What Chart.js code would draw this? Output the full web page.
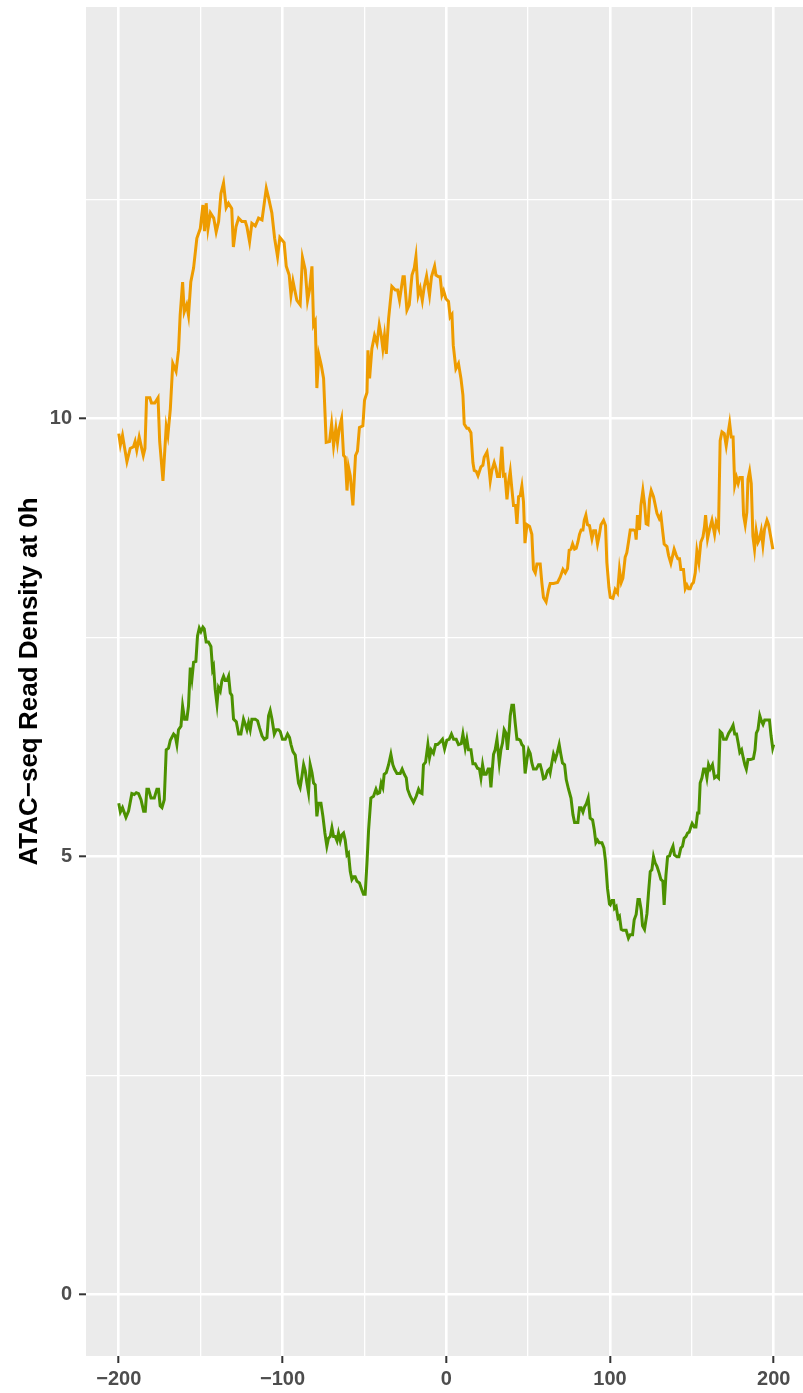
<!DOCTYPE html>
<html>
<head>
<meta charset="utf-8">
<title>ATAC-seq read density</title>
<script src="https://cdn.jsdelivr.net/npm/chart.js@4.4.1/dist/chart.umd.min.js"></script>
<style>
  html, body { margin: 0; padding: 0; background: #ffffff; }
  canvas { display: block; }
</style>
</head>
<body>
<canvas id="atacChart" width="803" height="1393"></canvas>
<script>
// positions relative to the site and read density
const orangePos = [
  -200, -199, -197.7, -195, -193, -191, -190, -189, -187.5, -185, -184, -183, -181, -180, -178, -176,
  -175, -173, -171, -170, -168.5, -167, -165, -163.5, -162.5, -161, -160, -158.5, -157.4, -156, -154.3,
  -152.3, -150.2, -148.6, -147.6, -146.6, -145.5, -144, -142, -140.5, -139, -137.6, -136, -134.4, -133,
  -131, -130, -128.4, -126.8, -124.8, -122.7, -121.7, -120.1, -118.7, -116.6, -114.6, -112.5, -109.9,
  -108.5, -106.5, -104.8, -103, -101.6, -99, -97.7, -95.9, -94.8, -93.6, -91.2, -89.2, -87.8, -86.1,
  -84.7, -83.5, -82, -81, -80, -79, -77.8, -76.3, -74.9, -73.3, -71.3, -70, -68.8, -67.4, -66.4, -65.3,
  -63.9, -62.7, -61.7, -60.6, -59.7, -58.6, -57, -55.4, -54.2, -53, -50.9, -49.9, -48.4, -47.8, -46.8,
  -45.4, -43.8, -42.3, -40.9, -39.7, -38.7, -37.7, -36.6, -35.2, -33.2, -31.1, -29.7, -28.5, -26.4,
  -25.6, -24, -22.6, -20.9, -19.5, -18.5, -17.1, -15.9, -14.6, -13.4, -12, -10.2, -9, -7.1, -6.3, -4.7,
  -3.7, -2.6, -1.6, -0.2, 1.4, 2.4, 3.5, 4.3, 5.9, 7.5, 9, 10.2, 11, 12.6, 13.6, 15.1, 16.3, 17.1, 18.3,
  19.4, 21.2, 22.4, 23.2, 24.9, 25.8, 26.9, 27.9, 29.3, 30.4, 31.3, 32.6, 34, 35, 35.9, 37.1, 38.1, 39.1,
  40.1, 41.1, 42.3, 43.2, 44.2, 45.2, 46.2, 47.2, 48.1, 49.3, 50.9, 52.3, 53.3, 54.4, 55.4, 57.4, 58.4,
  59.4, 61, 62.5, 63.5, 65.5, 68, 69.6, 71.3, 72.7, 74.1, 75.1, 76.2, 77.2, 78.4, 79.4, 80.4, 81.4, 82.4,
  83.5, 84.3, 85.3, 86.3, 87.5, 89, 90, 91.2, 92.4, 93.4, 94.5, 96.1, 97.3, 98.1, 99.4, 100.2, 101.8,
  103.2, 104.6, 105.8, 106.9, 107.9, 109.3, 110.3, 111.3, 112.4, 114.4, 115.4, 116, 116.8, 118, 118.9,
  120.1, 121.1, 122.1, 123.2, 124.2, 125.2, 126.6, 127.6, 128.7, 130.1, 131.1, 132.3, 133.1, 134.8,
  135.8, 137.2, 139.2, 140.5, 141.5, 142.5, 143.3, 144.9, 146, 147, 148, 149, 150, 151, 152.1, 153.1,
  154.3, 155.5, 156.8, 157.7, 158.4, 159.6, 160.6, 162.3, 163.9, 164.9, 166.3, 167.3, 168.4, 169.8, 171,
  172.1, 173.1, 174.1, 175.2, 176.2, 177.3, 178.3, 179.3, 180.8, 181.6, 182.6, 183.6, 184.3, 185.3,
  186.3, 187.3, 188.3, 189.3, 190.4, 191.4, 192.4, 193.4, 194.4, 195.9, 196.9, 197.9, 199.5
];
const orangeDensity = [
  9.83, 9.70, 9.81, 9.51, 9.66, 9.68, 9.74, 9.64, 9.79, 9.58, 9.66, 10.24, 10.24, 10.18, 10.18, 10.24,
  9.74, 9.29, 9.91, 9.81, 10.11, 10.63, 10.54, 10.78, 11.18, 11.56, 11.22, 11.30, 11.18, 11.56, 11.72,
  12.06, 12.17, 12.44, 12.14, 12.46, 12.17, 12.35, 12.29, 12.13, 12.25, 12.57, 12.69, 12.41, 12.46,
  12.40, 11.96, 12.19, 12.29, 12.25, 12.25, 12.19, 12.02, 12.23, 12.20, 12.29, 12.27, 12.63,
  12.52, 12.35, 12.06, 11.85, 12.07, 12.01, 11.74, 11.64, 11.41, 11.57, 11.35, 11.30, 11.84, 11.70,
  11.35, 11.47, 11.74, 11.07, 11.11, 10.35, 10.73, 10.61, 10.46, 9.73, 9.74, 9.94, 9.69, 9.89, 9.73, 9.89,
  10.00, 9.58, 9.56, 9.18, 9.45, 9.35, 9.01, 9.58, 9.63, 9.90, 9.92, 10.21, 10.30, 10.78, 10.46,
  10.80, 10.95, 10.86, 11.07, 10.95, 10.80, 10.95, 10.74, 11.14, 11.51, 11.47, 11.47, 11.35, 11.62,
  11.62, 11.24, 11.30, 11.64, 11.72, 11.85, 11.41, 11.49, 11.35, 11.51, 11.63, 11.41, 11.62, 11.74, 11.64, 11.62,
  11.62, 11.41, 11.46, 11.37, 11.34, 11.16, 11.19, 10.84, 10.57, 10.63, 10.46, 10.27, 9.94, 9.89, 9.89, 9.84, 9.50, 9.41, 9.40,
  9.35, 9.45, 9.47, 9.56, 9.62, 9.50, 9.29, 9.41, 9.50, 9.43, 9.34, 9.34, 9.68, 9.35, 9.36, 9.08, 9.28, 9.40,
  9.20, 9.01, 9.01, 8.80, 9.11, 9.12, 9.23, 9.05, 8.58, 8.79, 8.77, 8.68, 8.28, 8.24, 8.34, 8.34, 8.13,
  7.96, 7.91, 8.05, 8.12, 8.12, 8.13, 8.19, 8.28, 8.24, 8.29, 8.50, 8.51, 8.57, 8.51, 8.52, 8.59, 8.68, 8.73,
  8.73, 8.84, 8.90, 8.79, 8.78, 8.63, 8.72, 8.72, 8.57, 8.66, 8.79, 8.84, 8.78, 8.36, 8.07, 7.96, 7.95,
  8.05, 8.01, 8.28, 8.13, 8.18, 8.42, 8.47, 8.59, 8.73, 8.73, 8.72, 8.62, 8.90, 8.73, 9.01,
  9.18, 9.03, 8.80, 8.79, 9.08, 9.18, 9.11, 9.02, 8.92, 8.86, 8.90, 8.70, 8.57, 8.54,
  8.44, 8.35, 8.51, 8.44, 8.40, 8.40, 8.28, 8.28, 8.06, 8.10, 8.06, 8.06, 8.11, 8.13, 8.24, 8.49,
  8.36, 8.59, 8.65, 8.76, 8.90, 8.63, 8.72, 8.84, 8.68, 8.82, 8.75, 9.75, 9.85, 9.83, 9.69,
  9.83, 9.95, 9.79, 9.79, 9.24, 9.33, 9.26, 9.33, 9.33, 8.90, 8.79, 8.93, 9.31, 9.40,
  9.26, 8.66, 8.51, 8.72, 8.59, 8.63, 8.72, 8.56, 8.74, 8.84, 8.79, 8.68, 8.51
];
const greenPos = [
  -200, -199, -197.7, -195.6, -194, -192, -190.5, -189.3, -187.9, -186.4, -184.8, -183.8, -182.8, -181.8,
  -180.3, -178.3, -176.7, -175.7, -174.7, -173.6, -172.2, -171, -169.6, -168.5, -166.5, -165.5, -164.5,
  -163.5, -162, -161, -159.8, -158.4, -157.4, -156.3, -155.3, -154.3, -152.9, -151.9, -150.8, -149.8,
  -148.6, -147.8, -146.6, -145.2, -143.7, -142.7, -142.1, -141.1, -140, -139.1, -138, -137, -136, -135,
  -133.9, -132.9, -131.9, -130.9, -129.9, -128.2, -126.8, -125.4, -123.8, -122.7, -121.7, -120.7, -119.7,
  -118.7, -116.6, -115.2, -114, -112.5, -111.1, -109.5, -108.5, -107.5, -106.4, -105, -103.8, -102.4,
  -101.4, -100, -98.3, -96.9, -95.7, -94.8, -93.6, -92.2, -91.2, -90.2, -89.2, -88.1, -87.1, -86.1, -85.1,
  -84.1, -83.1, -82, -81, -80, -79, -78, -76.5, -75.3, -74.1, -72.9, -71.9, -70.8, -69.8, -68.8, -67.8,
  -66.7, -65.8, -64.7, -63.7, -62.7, -61.7, -60.6, -59.7, -58.6, -57.6, -56.6, -55.6, -54.5, -53, -51.5,
  -50.5, -49.5, -48.4, -47.4, -46, -44.4, -42.9, -41.9, -40.7, -39.7, -38.7, -37.9, -36.6, -35.2, -33.8,
  -32.6, -31.6, -30.1, -28.1, -26.9, -25.6, -24.4, -23.6, -22, -20, -18.3, -16.9, -15.9, -14.8, -13.9,
  -12.6, -11.2, -10.2, -9.2, -7.8, -6.5, -5.3, -3.7, -2.3, -1, 0.4, 1.8, 3.2, 4.5, 6.1, 7.5, 9.2, 10.2,
  11.6, 12.6, 13.6, 15.1, 16.3, 17.7, 19.1, 20.3, 21.2, 22.2, 23.2, 24.4, 25.6, 26.4, 27.3, 28.3, 28.9,
  29.9, 31, 32.4, 33.4, 34.4, 35.4, 36.5, 37.4, 38.5, 39.1, 40.1, 41.1, 42.1, 43.2, 44.2, 45.2, 46.2, 47.2,
  48.2, 49.3, 50.3, 51.3, 52.3, 53.3, 55, 56.4, 57.4, 58.4, 59.4, 60.5, 61.9, 62.9, 63.5, 64.5, 65.5, 66.6,
  67.6, 69, 70, 71, 72.3, 73.3, 74.7, 76.2, 77.4, 78.4, 80.4, 81.4, 82.4, 83.5, 84.5, 85.5, 86.7, 87.9,
  89.4, 90.4, 91.4, 92.4, 93.4, 95.1, 96.3, 97.3, 98.5, 99.7, 100.2, 101.3, 102.2, 102.8, 103.8, 104.9,
  105.8, 106.9, 107.9, 109.9, 111.3, 112.4, 113.8, 114.8, 116, 117.1, 118, 119.1, 119.9, 121.1, 122.6,
  123.6, 124.6, 125.6, 126.6, 127.6, 128.7, 130.1, 131.1, 132.3, 133.1, 134.2, 135.2, 136.4, 137.4,
  138.5, 139.4, 140.9, 142.1, 143.3, 144.3, 145.3, 146.4, 147.4, 148.4, 149.4, 150.2, 151.5, 152.5,
  153.5, 154.3, 155.1, 156.2, 157.2, 158.2, 159.2, 160.2, 161.2, 162.6, 163.9, 165.3, 166.3, 167.3,
  168.4, 169.4, 171, 172.5, 173.9, 175.2, 176.2, 177.3, 178.3, 179.3, 180.4, 181.4, 182.4, 183.3, 184.3,
  185.9, 187.6, 188.6, 189.4, 190.4, 191.5, 192.5, 193.5, 194.5, 195.9, 197.4, 198.4, 199.4, 200
];
const greenDensity = [
  5.61, 5.51, 5.56, 5.45, 5.52, 5.72, 5.71, 5.73, 5.72, 5.65, 5.52, 5.52, 5.77, 5.77,
  5.67, 5.67, 5.77, 5.77, 5.58, 5.56, 5.65, 6.22, 6.24, 6.33, 6.40, 6.38, 6.28,
  6.45, 6.49, 6.72, 6.57, 6.57, 6.72, 7.16, 7.03, 7.22, 7.23, 7.52, 7.61, 7.57,
  7.62, 7.60, 7.45, 7.45, 7.40, 7.14, 7.17, 6.91, 6.74, 6.93, 6.89, 7.01, 7.06, 7.01,
  7.01, 7.06, 6.87, 6.84, 6.57, 6.54, 6.40, 6.40, 6.57, 6.51, 6.45, 6.53, 6.45,
  6.57, 6.57, 6.55, 6.47, 6.38, 6.34, 6.36, 6.61, 6.67, 6.57, 6.40, 6.45, 6.45,
  6.43, 6.34, 6.34, 6.40, 6.36, 6.28, 6.20, 6.16, 5.99, 5.84, 5.79, 5.92, 6.05, 5.98, 5.84,
  5.73, 6.05, 5.96, 5.84, 5.82, 5.46, 5.61, 5.61, 5.46, 5.27, 5.12, 5.21, 5.23, 5.33, 5.23, 5.23,
  5.18, 5.27, 5.18, 5.25, 5.27, 5.19, 5.02, 5.04, 4.83, 4.74, 4.77, 4.77, 4.72, 4.70, 4.62,
  4.57, 4.57, 4.93, 5.31, 5.67, 5.69, 5.77, 5.72, 5.73, 5.84, 5.79, 5.94, 5.96, 6.05, 6.17,
  6.05, 6.00, 5.95, 5.95, 6.00, 5.94, 5.90, 5.77, 5.69, 5.62, 5.69, 5.77, 5.73, 5.72, 6.05,
  6.08, 6.28, 6.13, 6.22, 6.18, 6.28, 6.28, 6.31, 6.34, 6.23, 6.33, 6.34, 6.40, 6.34, 6.34, 6.28, 6.29, 6.40,
  6.24, 6.34, 6.22, 6.22, 6.06, 6.06, 6.01, 6.00, 5.90, 6.05, 5.94, 5.94, 6.00, 6.00, 5.79, 6.03, 6.17,
  6.22, 6.34, 6.07, 6.22, 6.30, 6.45, 6.41, 6.22, 6.45, 6.61, 6.73, 6.73, 6.53, 6.34, 6.34, 6.33, 6.28, 6.26,
  5.95, 6.11, 6.22, 6.18, 6.07, 6.00, 6.00, 6.05, 6.05, 5.98, 5.89, 5.90, 5.98, 6.00, 5.96, 6.07, 6.17, 6.11,
  6.17, 6.28, 6.17, 6.07, 6.05, 5.88, 5.77, 5.67, 5.48, 5.39, 5.39, 5.56, 5.56, 5.51, 5.57, 5.60, 5.67, 5.44,
  5.42, 5.31, 5.16, 5.19, 5.16, 5.16, 5.10, 4.95, 4.64, 4.46, 4.45, 4.50, 4.50, 4.41, 4.43, 4.30,
  4.32, 4.17, 4.16, 4.16, 4.07, 4.11, 4.11, 4.28, 4.34, 4.51, 4.51, 4.39, 4.21, 4.17, 4.35,
  4.60, 4.83, 4.85, 5.00, 4.93, 4.89, 4.81, 4.74, 4.72, 4.45, 4.79, 5.00, 5.01, 5.07,
  5.12, 5.02, 5.00, 5.00, 5.10, 5.12, 5.21, 5.23, 5.27, 5.28, 5.34, 5.38, 5.34, 5.34,
  5.50, 5.50, 5.84, 5.90, 6.00, 6.00, 5.90, 6.05, 6.00, 6.05, 5.90, 5.92, 5.90, 6.43,
  6.41, 6.34, 6.34, 6.41, 6.45, 6.50, 6.40, 6.40, 6.30, 6.19, 6.22, 6.13, 6.05, 6.00, 6.11,
  6.11, 6.12, 6.22, 6.41, 6.45, 6.61, 6.55, 6.51, 6.56, 6.56, 6.56, 6.38, 6.24, 6.28
];

const xTicks = [-200, -150, -100, -50, 0, 50, 100, 150, 200];
const xLabeled = [-200, -100, 0, 100, 200];
const yTicks = [0, 2.5, 5, 7.5, 10, 12.5];
const yLabeled = [0, 5, 10];

function toPoints(xs, ys) {
    return xs.map(function (x, i) { return { x: x, y: ys[i] }; });
}

const fontFamily = "'Liberation Sans', Arial, Helvetica, sans-serif";
const tickFont = { family: fontFamily, size: 20, weight: 'bold' };

// grey ggplot-like panel behind the grid
const panelBg = {
    id: 'panelBg',
    beforeDraw(chart) {
        const { ctx, chartArea } = chart;
        ctx.save();
        ctx.fillStyle = '#EBEBEB';
        ctx.fillRect(chartArea.left, chartArea.top, chartArea.right - chartArea.left, chartArea.bottom - chartArea.top);
        ctx.restore();
    }
};

function gridFor(labeled) {
    return {
        color: '#FFFFFF',
        lineWidth: ctx => labeled.includes(ctx.tick.value) ? 2.6 : 1.3,
        tickColor: ctx => labeled.includes(ctx.tick.value) ? '#333333' : 'rgba(0,0,0,0)',
        tickWidth: 2,
        tickLength: 7,
        drawTicks: true
    };
}

new Chart(document.getElementById('atacChart'), {
    type: 'line',
    data: {
        datasets: [{
            label: 'orange',
            data: toPoints(orangePos, orangeDensity),
            borderColor: '#EE9C00',
            borderWidth: 3,
            pointRadius: 0,
            tension: 0,
            fill: false
        }, {
            label: 'green',
            data: toPoints(greenPos, greenDensity),
            borderColor: '#4C9100',
            borderWidth: 3,
            pointRadius: 0,
            tension: 0,
            fill: false
        }]
    },
    options: {
        responsive: false,
        animation: false,
        devicePixelRatio: 1,
        layout: { padding: { top: 7, right: 0, bottom: 0, left: 0 } },
        plugins: {
            legend: { display: false },
            tooltip: { enabled: false }
        },
        scales: {
            x: {
                type: 'linear',
                min: -220,
                max: 217.9,
                afterBuildTicks: scale => { scale.ticks = xTicks.map(v => ({ value: v })); },
                afterFit: scale => {
                    scale.height = 37;
                    scale.paddingLeft = 0;
                    scale.paddingRight = 0;
                },
                grid: gridFor(xLabeled),
                border: { display: false },
                ticks: {
                    autoSkip: false,
                    maxRotation: 0,
                    padding: 4,
                    color: '#4D4D4D',
                    font: tickFont,
                    callback: v => xLabeled.includes(v) ? (v < 0 ? '\u2212' + Math.abs(v) : String(v)) : ''
                }
            },
            y: {
                type: 'linear',
                min: -0.70,
                max: 14.70,
                afterBuildTicks: scale => { scale.ticks = yTicks.map(v => ({ value: v })); },
                afterFit: scale => {
                    scale.width = 86;
                    scale.paddingTop = 0;
                    scale.paddingBottom = 0;
                },
                grid: gridFor(yLabeled),
                border: { display: false },
                ticks: {
                    autoSkip: false,
                    padding: 7,
                    color: '#4D4D4D',
                    font: tickFont,
                    callback: v => yLabeled.includes(v) ? String(v) : ''
                },
                title: {
                    display: true,
                    text: 'ATAC\u2212seq Read Density at 0h',
                    color: '#000000',
                    padding: { top: 14, bottom: 0 },
                    font: { family: fontFamily, size: 26, weight: 'bold' }
                }
            }
        }
    },
    plugins: [panelBg]
});
</script>
</body>
</html>
